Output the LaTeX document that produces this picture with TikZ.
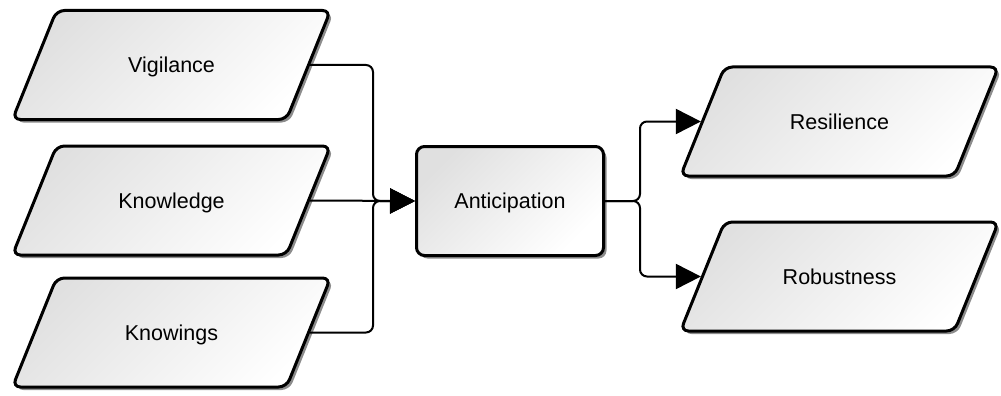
\documentclass[tikz,border=0pt]{standalone}
\usepackage{fontspec}
\setmainfont{Liberation Sans}
\usetikzlibrary{shapes.geometric,shadows,arrows.meta,calc}

\tikzset{
  box/.style={draw=black, line width=3pt, rounded corners=8pt,
    top color=black!12, bottom color=white, shading angle=45,
    drop shadow={shadow xshift=3pt, shadow yshift=-3pt, fill=black!45, opacity=1},
    font=\fontsize{21.5}{25}\selectfont, text height=15.4pt, text depth=0pt},
  % parallelogram: body 230 x 109, slanted sides at 68 degrees
  slanted/.style={box, shape=trapezium, trapezium left angle=68,
    trapezium right angle=112, text width=200pt, align=center,
    inner xsep=15pt, inner ysep=46.8pt},
  plain/.style={box, shape=rectangle, minimum width=187pt, minimum height=109pt},
  link/.style={draw=black, line width=2pt, rounded corners=7pt},
  tip/.style={-{Triangle[length=25pt, width=25pt]}}
}

\begin{document}
\begin{tikzpicture}[x=1pt, y=-1pt]
  \useasboundingbox (0,0) rectangle (1001,396);

  % sources on the left
  \node[slanted] (vig)  at (171.5,65)  {Vigilance};
  \node[slanted] (know) at (171.5,200.5) {Knowledge};
  \node[slanted] (kngs) at (171.5,332.5) {Knowings};

  % central step
  \node[plain] (anti) at (510,201) {Anticipation};

  % outcomes on the right
  \node[slanted] (res) at (839.5,121.5) {Resilience};
  \node[slanted] (rob) at (839.5,276.5) {Robustness};

  % junction points of the merging and splitting lines
  \coordinate (jin)  at ($(anti.west)+(-42,0)$);
  \coordinate (jout) at ($(anti.east)+(35,0)$);

  % merge into Anticipation
  \draw[link, tip] (vig.east) -| (jin) -- (anti.west);
  \draw[link, tip] (know.east) -- (anti.west);
  \draw[link, tip] (kngs.east) -| (jin) -- (anti.west);

  % split towards the outcomes
  \draw[link, tip] (anti.east) -- (jout) |- (res.west);
  \draw[link, tip] (anti.east) -- (jout) |- (rob.west);
\end{tikzpicture}
\end{document}
